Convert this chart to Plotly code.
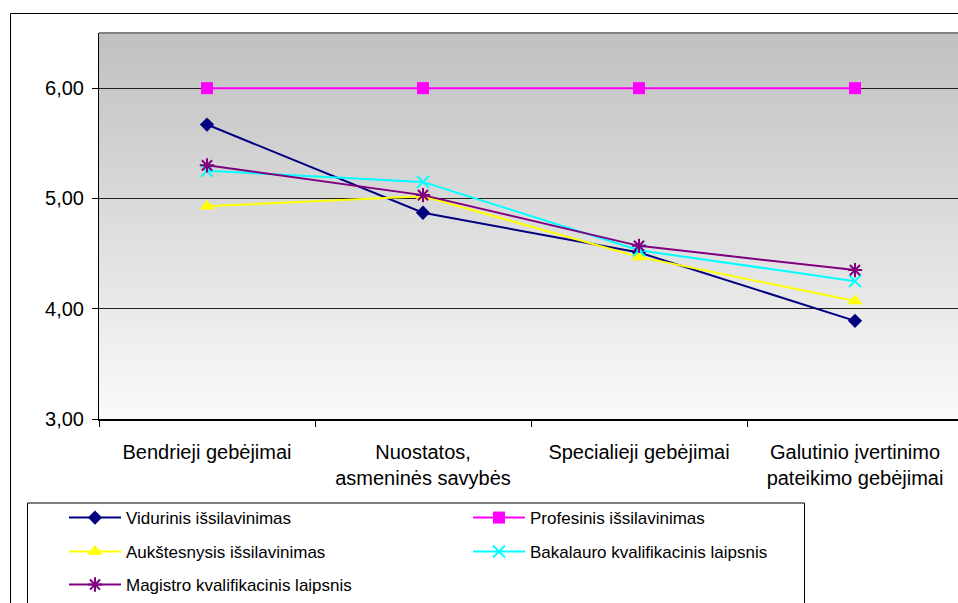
import plotly.graph_objects as go

# Competence groups (x categories)
categories = [
    "Bendrieji gebėjimai",
    "Nuostatos,<br>asmeninės savybės",
    "Specialieji gebėjimai",
    "Galutinio įvertinimo<br>pateikimo gebėjimai",
]

# Mean scores per education level
vidurinis = [5.67, 4.87, 4.51, 3.89]
profesinis = [6.00, 6.00, 6.00, 6.00]
aukstesnysis = [4.93, 5.02, 4.47, 4.07]
bakalauro = [5.25, 5.15, 4.53, 4.25]
magistro = [5.30, 5.03, 4.57, 4.35]

series_names = [
    "Vidurinis išsilavinimas",
    "Profesinis išsilavinimas",
    "Aukštesnysis išsilavinimas",
    "Bakalauro kvalifikacinis laipsnis",
    "Magistro kvalifikacinis laipsnis",
]

W, H = 958, 603
FONT = "Liberation Sans, Arial, sans-serif"

styles = [
    dict(color="#000080", symbol="diamond", size=11, legend="legend"),
    dict(color="#ff00ff", symbol="square", size=12, legend="legend"),
    dict(color="#ffff00", symbol="triangle-up", size=13, legend="legend2"),
    dict(color="#00ffff", symbol="x-thin", size=12, legend="legend2"),
    dict(color="#800080", symbol="asterisk", size=12, legend="legend3"),
]

fig = go.Figure()

for name, vals, st in zip(series_names,
                          [vidurinis, profesinis, aukstesnysis, bakalauro, magistro],
                          styles):
    open_sym = st["symbol"] in ("x-thin", "asterisk")
    fig.add_trace(go.Scatter(
        x=categories, y=vals, name=name, mode="lines+markers",
        line=dict(color=st["color"], width=2),
        marker=dict(symbol=st["symbol"], size=st["size"], color=st["color"],
                    line=dict(color=st["color"], width=2 if open_sym else 0)),
        legend=st["legend"],
    ))

# Vertical grey-to-white gradient of the plot area, built from thin bands
shapes = []
n_bands = 160
top_rgb, bot_rgb = (192, 192, 192), (250, 250, 250)
for i in range(n_bands):
    t = i / (n_bands - 1)
    c = [round(bot_rgb[k] + (top_rgb[k] - bot_rgb[k]) * t) for k in range(3)]
    shapes.append(dict(
        type="rect", xref="paper", yref="paper",
        x0=0, x1=1, y0=i / n_bands, y1=(i + 1.6) / n_bands if i < n_bands - 1 else 1,
        fillcolor=f"rgb({c[0]},{c[1]},{c[2]})", line=dict(width=0), layer="below",
    ))

# Plot-area top edge
shapes.append(dict(type="line", xref="paper", yref="paper", x0=0, x1=1, y0=1, y1=1,
                   line=dict(color="#808080", width=2), layer="above"))

px_left, px_right, px_top, px_bot = 99, 958, 33, 419
def to_paper_x(px):
    return (px - px_left) / (px_right - px_left)
def to_paper_y(py):
    return (px_bot - py) / (px_bot - px_top)

# Outer chart frame
shapes.append(dict(type="rect", xref="paper", yref="paper",
                   x0=to_paper_x(10.5), x1=to_paper_x(980), y0=to_paper_y(13.5), y1=to_paper_y(640),
                   line=dict(color="black", width=1), fillcolor="rgba(0,0,0,0)", layer="above"))
# Legend frame
shapes.append(dict(type="rect", xref="paper", yref="paper",
                   x0=to_paper_x(27.5), x1=to_paper_x(804.5), y0=to_paper_y(503), y1=to_paper_y(640),
                   line=dict(color="black", width=1), fillcolor="rgba(0,0,0,0)", layer="above"))

ITEMW = 52
legend_common = dict(
    orientation="h", entrywidth=399 - (ITEMW + 10), entrywidthmode="pixels",
    xref="container", yref="container", xanchor="left", yanchor="middle",
    font=dict(family=FONT, size=17, color="black"),
    bgcolor="rgba(0,0,0,0)", borderwidth=0, itemwidth=ITEMW,
    itemclick=False, itemdoubleclick=False,
)
leg_x = 64 / W

fig.update_layout(
    width=W, height=H,
    margin=dict(l=px_left, r=W - px_right, t=px_top, b=H - px_bot, autoexpand=False),
    paper_bgcolor="white", plot_bgcolor="rgba(0,0,0,0)",
    separators=",.",
    font=dict(family=FONT, size=20, color="black"),
    shapes=shapes,
    showlegend=True,
    legend=dict(**legend_common, x=leg_x, y=1 - 518 / H),
    legend2=dict(**legend_common, x=leg_x, y=1 - 552 / H),
    legend3=dict(**legend_common, x=leg_x, y=1 - 585 / H),
    xaxis=dict(
        type="category", range=[-0.5, 3.5 - 5 / 216],
        showgrid=False, showline=True, linecolor="black", linewidth=2,
        ticks="outside", tickson="boundaries", ticklen=6, tickcolor="black",
        ticklabelstandoff=14,
        tickfont=dict(family=FONT, size=20, color="black"),
        zeroline=False,
    ),
    yaxis=dict(
        range=[3, 6.5], tickvals=[3, 4, 5, 6], tickformat=".2f",
        showgrid=True, gridcolor="#202020", gridwidth=1,
        showline=True, linecolor="black", linewidth=1,
        ticks="outside", ticklen=6, tickcolor="black",
        ticklabelstandoff=4,
        tickfont=dict(family=FONT, size=20, color="black"),
        zeroline=False,
    ),
)

fig.write_html("out.html")
